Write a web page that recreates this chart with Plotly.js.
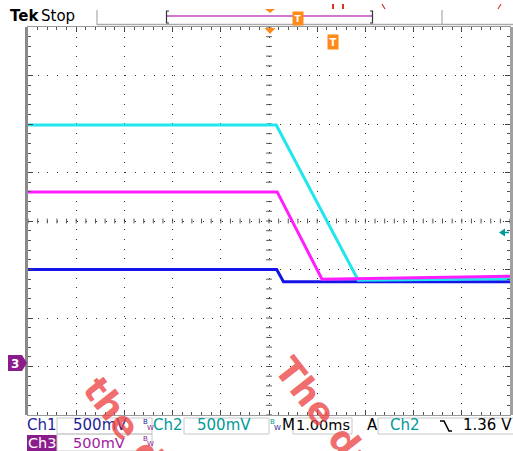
<!DOCTYPE html>
<html>
<head>
<meta charset="utf-8">
<script src="https://cdn.plot.ly/plotly-3.0.1.min.js"></script>
<style>html,body{margin:0;padding:0;background:#fff;}#chart{width:513px;height:451px;}</style>
</head>
<body>
<div id="chart"></div>
<script>
// ---- data (time in ms, amplitude in screen divisions, 500 mV/div) ----
const ch1Time = [-5, 0.16, 0.30, 5];
const ch1Div  = [-1.00, -1.00, -1.25, -1.25];
const ch2Time = [-5, 0.15, 1.85, 5];
const ch2Div  = [1.98, 1.98, -1.22, -1.19];
const ch3Time = [-5, 0.17, 1.10, 5];
const ch3Div  = [0.60, 0.60, -1.20, -1.14];

const statusRow1 = ["Ch1", "500mV", "Ch2", "500mV", "M", "1.00ms", "A", "Ch2", "1.36 V"];
const statusRow2 = ["Ch3", "500mV"];
const headerText = ["Tek", "Stop"];
const watermark = ["the data", "The data"];

// ---- pixel helpers (plot area 28..510 x 27..415) ----
const L = 28, T = 27, W = 482, H = 388;
const xp = px => (px - L) / W;
const yp = py => (T + H - py) / H;
const P = (pts, close) => pts.map((p, i) => (i ? 'L' : 'M') + xp(p[0]).toFixed(5) + ',' + yp(p[1]).toFixed(5)).join(' ') + (close ? ' Z' : '');

const FONT = 'DejaVu Sans, sans-serif';
const shapes = [];
const ann = [];

function line(x0, y0, x1, y1, color, width, layer) {
  shapes.push({type: 'line', xref: 'paper', yref: 'paper', x0: xp(x0), y0: yp(y0), x1: xp(x1), y1: yp(y1),
    line: {color: color, width: width}, layer: layer || 'above'});
}
function rect(x0, y0, x1, y1, stroke, fill, width) {
  shapes.push({type: 'rect', xref: 'paper', yref: 'paper', x0: xp(x0), y0: yp(y0), x1: xp(x1), y1: yp(y1),
    line: {color: stroke, width: width === undefined ? 1 : width}, fillcolor: fill || 'rgba(0,0,0,0)'});
}
function path(pts, color, fill, width) {
  shapes.push({type: 'path', xref: 'paper', yref: 'paper', path: P(pts, !!fill),
    line: {color: color, width: width === undefined ? 1 : width}, fillcolor: fill || 'rgba(0,0,0,0)'});
}
function text(t, x, y, size, color, opts) {
  opts = opts || {};
  ann.push(Object.assign({text: t, xref: 'paper', yref: 'paper', x: xp(x), y: yp(y), showarrow: false,
    xanchor: 'left', yanchor: 'middle', borderpad: 0,
    font: {family: FONT, size: size, color: color, weight: opts.bold ? 'bold' : 'normal'}}, opts.extra || {}));
}

// center crosshair small ticks
for (let i = -25; i <= 25; i++) {
  const x = i * 0.2;
  shapes.push({type: 'line', xref: 'x', yref: 'y', x0: x, x1: x, y0: -0.05, y1: 0.05, line: {color: '#555', width: 1}, layer: 'below'});
}
for (let i = -20; i <= 20; i++) {
  const y = i * 0.2;
  shapes.push({type: 'line', xref: 'x', yref: 'y', y0: y, y1: y, x0: -0.06, x1: 0.06, line: {color: '#555', width: 1}, layer: 'below'});
}

// borders
rect(25, 27, 28, 415, 'rgba(0,0,0,0)', '#8a8a8a', 0);
rect(510, 27, 513, 415, 'rgba(0,0,0,0)', '#a0a0a0', 0);

// header
text(headerText[0], 9, 16, 15, '#000', {bold: true});
text(headerText[1], 40, 16, 15, '#000');
line(97, 10, 97, 25, '#aaa', 1.2);
line(97, 24.5, 513, 24.5, '#aaa', 1.5);
line(442, 10, 442, 25, '#aaa', 1.2);
// record bar
line(167, 16, 372, 16, '#cf78cf', 1.8);
path([[169, 11], [166.5, 11], [166.5, 23], [169, 23]], '#333', null, 1.2);
path([[370, 11], [372.5, 11], [372.5, 23], [370, 23]], '#333', null, 1.2);
path([[265, 9], [275, 9], [270, 13]], '#ff8a1a', '#ff8a1a', 0);
text('T', 291.5, 18.5, 9, '#fff', {bold: true, extra: {bgcolor: '#ff8a1a', borderpad: 1.5}});
// small clipped glyph marks at top
rect(332, 4, 334, 9, 'rgba(0,0,0,0)', '#e03020', 0);
rect(342, 4, 344, 9, 'rgba(0,0,0,0)', '#e03020', 0);
line(382, 4, 385, 9, '#c03030', 1.2);
line(498, 9, 501, 4, '#e04020', 1.2);

// trigger position marker and trigger point
path([[264.5, 28], [275.5, 28], [270, 34]], '#ff8a1a', '#ff8a1a', 0);
text('T', 327, 42, 10, '#fff', {bold: true, extra: {bgcolor: '#ff8a1a', borderpad: 1.5}});
// trigger level arrow
path([[499, 232.5], [505, 228.5], [505, 236.5]], '#009a9a', '#009a9a', 0);
line(504, 232.5, 509, 232.5, '#009a9a', 1.5);
// ch3 ground marker
path([[8, 355], [22, 355], [27, 363], [22, 371], [8, 371]], '#8b1c8b', '#8b1c8b', 0);
text('3', 10, 363.5, 12, '#fff', {bold: true});

// status area row 1
text(statusRow1[0], 26, 425.5, 15, '#1e1e9a');
rect(57, 418, 152, 434, '#c8c8c8', null, 1);
text(statusRow1[1], 72, 425.5, 15, '#1e1e9a');
text('B', 142, 422, 7, '#1e1e9a');
text('W', 146, 428, 7, '#8b1c8b');
text(statusRow1[2], 152, 425.5, 15, '#009a9a');
rect(184, 418, 269, 434, '#c8c8c8', null, 1);
text(statusRow1[3], 196, 425.5, 15, '#009a9a');
text('B', 269, 422, 7, '#009a9a');
text('W', 273, 428, 7, '#1e1e9a');
text(statusRow1[4], 281, 425.5, 15, '#000');
rect(293, 418, 352, 434, '#c8c8c8', null, 1);
text(statusRow1[5], 295, 425.5, 14.5, '#000');
text(statusRow1[6], 366, 425.5, 15, '#000');
rect(378, 418, 514, 434, '#c8c8c8', null, 1);
text(statusRow1[7], 389, 425.5, 15, '#009a9a');
path([[440, 421], [444, 421], [449, 431], [452, 431]], '#000', null, 1.6);
text(statusRow1[8], 462, 425.5, 15, '#000');
// row 2
rect(27, 435, 57, 451, 'rgba(0,0,0,0)', '#8b1c8b', 0);
text(statusRow2[0], 27, 442.5, 14.5, '#fff');
rect(57, 434, 152, 451, '#c8c8c8', null, 1);
text(statusRow2[1], 72, 442.5, 14.5, '#a01ca0');
text('B', 142, 438.5, 7, '#8b1c8b');
text('W', 146, 444, 7, '#8b1c8b');

// watermark
text(watermark[0], 143, 449, 36, 'rgba(238,70,70,0.8)', {bold: true, extra: {xanchor: 'center', textangle: 52}});
text(watermark[1], 338, 432, 36, 'rgba(238,70,70,0.8)', {bold: true, extra: {xanchor: 'center', textangle: 52}});

const traces = [
  {x: ch1Time, y: ch1Div, mode: 'lines', line: {color: '#1414e6', width: 3}, name: 'Ch1'},
  {x: ch2Time, y: ch2Div, mode: 'lines', line: {color: '#22e6ee', width: 3}, name: 'Ch2'},
  {x: ch3Time, y: ch3Div, mode: 'lines', line: {color: '#ff1eff', width: 3}, name: 'Ch3'}
];

const axisCommon = {
  showgrid: true, gridcolor: '#333', gridwidth: 1, zeroline: false,
  showticklabels: false, ticks: 'inside', ticklen: 5, tickcolor: '#444', tickwidth: 1,
  showline: true, linecolor: '#999', linewidth: 1, mirror: 'ticks', dtick: 1, tick0: 0,
  minor: {ticks: 'inside', ticklen: 3, dtick: 0.2, tick0: 0, tickcolor: '#555', showgrid: false},
  fixedrange: true
};

const layout = {
  width: 513, height: 451,
  margin: {l: 28, r: 3, t: 27, b: 36, pad: 0},
  paper_bgcolor: '#fff', plot_bgcolor: '#fff',
  showlegend: false,
  xaxis: Object.assign({}, axisCommon, {range: [-5, 5], griddash: '1px,8.64px'}),
  yaxis: Object.assign({}, axisCommon, {range: [-4, 4], griddash: '1px,8.7px'}),
  shapes: shapes,
  annotations: ann
};

Plotly.newPlot('chart', traces, layout, {staticPlot: true, displayModeBar: false});
</script>
</body>
</html>
